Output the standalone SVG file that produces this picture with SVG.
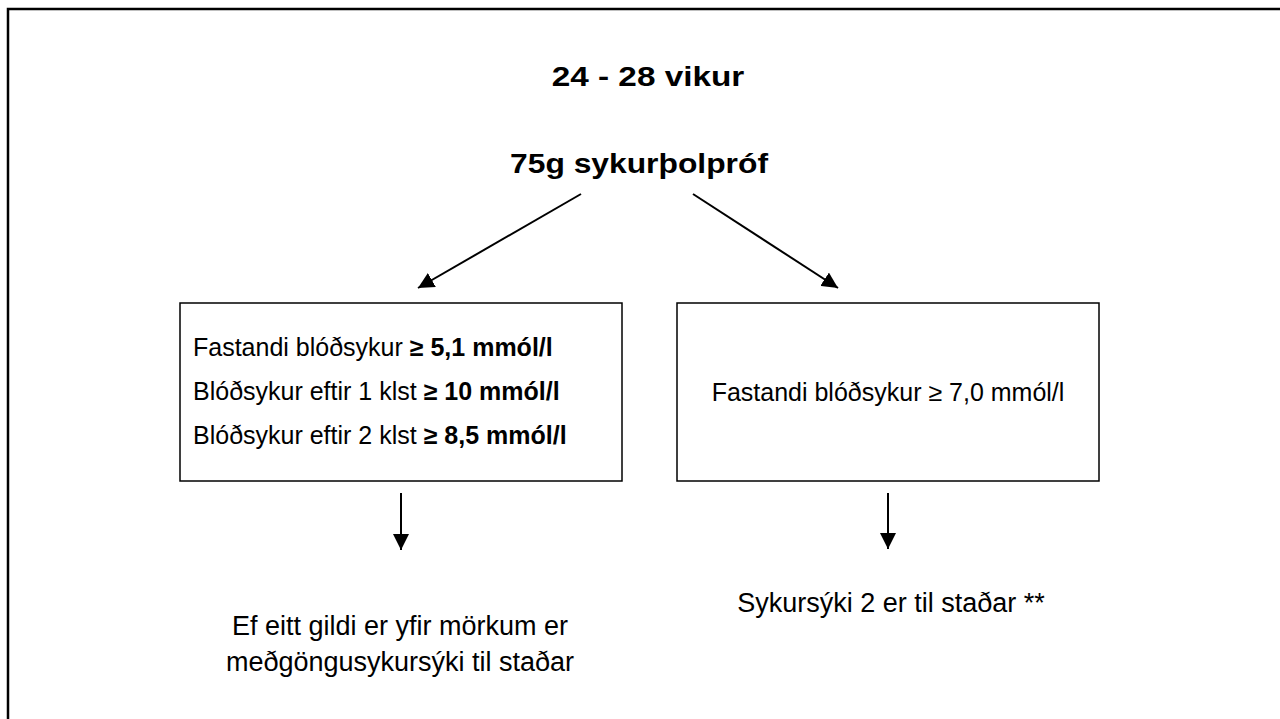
<svg xmlns="http://www.w3.org/2000/svg" width="1280" height="719" viewBox="0 0 1280 719">
<defs>
<style>
.t{font-family:"Liberation Sans",Arial,sans-serif;fill:#000}
.h{font-size:28px;font-weight:bold;text-anchor:middle}
.body{font-size:25px}
.res{font-size:27px;text-anchor:middle}
.b{font-weight:bold}
.box{fill:#fff;stroke:#000;stroke-width:1.5}
.conn{stroke:#000;stroke-width:2;fill:none}
</style>
<marker id="ah" viewBox="0 0 10 10" refX="10" refY="5" markerWidth="16" markerHeight="16" markerUnits="userSpaceOnUse" orient="auto">
<path d="M0,0 L10,5 L0,10 z" fill="#000"/>
</marker>
</defs>
<rect x="0" y="0" width="1280" height="719" fill="#fff"/>
<rect x="8" y="9" width="1290" height="720" fill="none" stroke="#000" stroke-width="2.5"/>
<g id="title">
<text class="t h" transform="translate(648,86) scale(1.19,1)">24 - 28 vikur</text>
</g>
<g id="test">
<text class="t h" transform="translate(639,173) scale(1.136,1)">75g sykurþolpróf</text>
</g>
<g id="left-box">
<rect class="box" x="180" y="303" width="442" height="178"/>
<text class="t body" x="193" y="356">Fastandi blóðsykur <tspan class="b">≥  5,1 mmól/l</tspan></text>
<text class="t body" x="193" y="400">Blóðsykur eftir 1 klst <tspan class="b">≥ 10 mmól/l</tspan></text>
<text class="t body" x="193" y="444">Blóðsykur eftir 2 klst <tspan class="b">≥ 8,5 mmól/l</tspan></text>
</g>
<g id="right-box">
<rect class="box" x="677" y="303" width="422" height="178"/>
<text class="t body" x="888" y="401" text-anchor="middle">Fastandi blóðsykur ≥ 7,0 mmól/l</text>
</g>
<g id="left-result">
<text class="t res" x="400" y="635">Ef eitt gildi er yfir mörkum er</text>
<text class="t res" x="400" y="671">meðgöngusykursýki til staðar</text>
</g>
<g id="right-result">
<text class="t res" x="891" y="612">Sykursýki  2 er til staðar **</text>
</g>
<g id="connectors">
<line class="conn" x1="581" y1="194" x2="418" y2="288" marker-end="url(#ah)"/>
<line class="conn" x1="693" y1="194" x2="838" y2="288" marker-end="url(#ah)"/>
<line class="conn" x1="401" y1="493" x2="401" y2="550" marker-end="url(#ah)"/>
<line class="conn" x1="888" y1="493" x2="888" y2="549" marker-end="url(#ah)"/>
</g>
</svg>
